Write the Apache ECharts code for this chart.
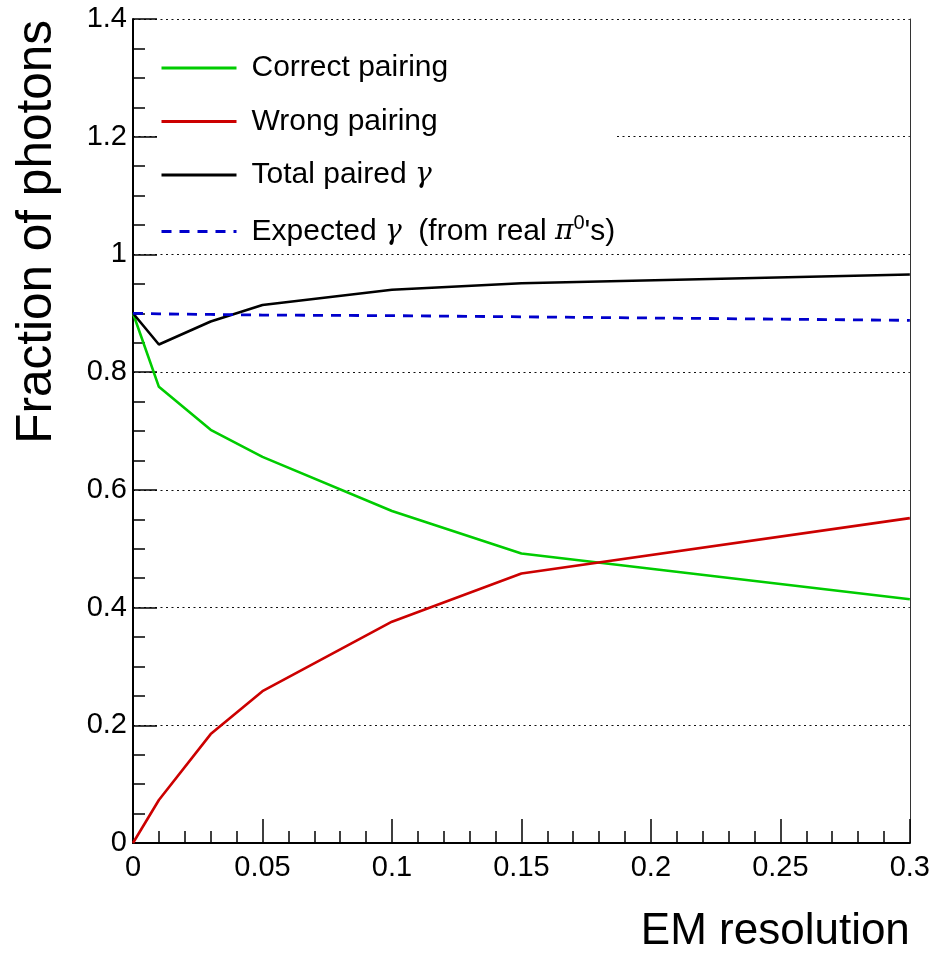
<!DOCTYPE html>
<html>
<head>
<meta charset="utf-8">
<script src="https://cdn.jsdelivr.net/npm/echarts@6/dist/echarts.min.js"></script>
<style>
html,body{margin:0;padding:0;background:#fff;}
#chart{width:933px;height:954px;}
</style>
</head>
<body>
<div id="chart"></div>
<script>
// ---- data ----
const emResolution   = [0, 0.01, 0.03, 0.05, 0.1, 0.15, 0.3];
const correctPairing = [0.900, 0.775, 0.702, 0.656, 0.564, 0.492, 0.414];
const wrongPairing   = [0.000, 0.073, 0.185, 0.258, 0.376, 0.458, 0.552];
const totalPaired    = [0.900, 0.847, 0.886, 0.914, 0.940, 0.951, 0.966];
const expectedGamma  = [0.900, 0.899, 0.898, 0.897, 0.896, 0.894, 0.888];
const seriesNames = ['Correct pairing', 'Wrong pairing', 'Total paired \u03b3', 'Expected \u03b3  (from real \u03c00\'s)'];
const xTickLabels = ['0', '0.05', '0.1', '0.15', '0.2', '0.25', '0.3'];
const yTickLabels = ['0', '0.2', '0.4', '0.6', '0.8', '1', '1.2', '1.4'];

const FONT = "'Liberation Sans', Arial, Helvetica, sans-serif";
const GREEK = "'DejaVu Serif', 'Liberation Serif', serif";
const pairs = ys => emResolution.map((x, i) => [x, ys[i]]);

const legendFormat = n => n
  .replace('\u03b3', '{g|\u03b3}')
  .replace('\u03c00', '{g|\u03c0}{sup|0}');

const chart = echarts.init(document.getElementById('chart'), null, {renderer: 'canvas'});
chart.setOption({
  animation: false,
  backgroundColor: '#fff',
  textStyle: {fontFamily: FONT, color: '#000'},
  grid: {left: 133, right: 19, top: 19, bottom: 109, containLabel: false},
  legend: {
    orient: 'vertical',
    left: 158, top: 22,
    padding: [31, 0, 7, 2],
    backgroundColor: '#fff',
    itemWidth: 75, itemHeight: 30, itemGap: 23.5,
    itemStyle: {opacity: 0},
    lineStyle: {width: 3},
    data: seriesNames,
    formatter: legendFormat,
    textStyle: {
      fontFamily: FONT, fontSize: 30, color: '#000', padding: [0, 0, 0, 10],
      rich: {
        g: {fontFamily: GREEK, fontStyle: 'italic', fontSize: 28, color: '#000'},
        sup: {fontFamily: FONT, fontSize: 20, color: '#000', padding: [0, 0, 16, 0]}
      }
    }
  },
  xAxis: {
    type: 'value', min: 0, max: 0.3, interval: 0.05,
    name: 'EM resolution', nameLocation: 'end', nameGap: 0,
    nameMoveOverlap: false,
    nameTextStyle: {fontFamily: FONT, fontSize: 44, color: '#000', align: 'right', verticalAlign: 'top', padding: [67, 0, 0, 0]},
    axisLine: {show: true, onZero: false, lineStyle: {color: '#000', width: 2}},
    axisTick: {show: true, inside: true, length: 24, lineStyle: {color: '#000', width: 1.5}},
    minorTick: {show: true, splitNumber: 5, length: 12, lineStyle: {color: '#000', width: 1.5}},
    axisLabel: {fontFamily: FONT, fontSize: 29, color: '#000', margin: 10, formatter: (v, i) => xTickLabels[i]},
    splitLine: {show: false}
  },
  yAxis: [{
    type: 'value', min: 0, max: 1.4, interval: 0.2,
    name: 'Fraction of photons', nameLocation: 'end', nameGap: -1, nameRotate: 90,
    nameMoveOverlap: false,
    nameTextStyle: {fontFamily: FONT, fontSize: 49.5, color: '#000', align: 'right', verticalAlign: 'bottom', padding: [0, 0, 71, 0]},
    axisLine: {show: true, onZero: false, lineStyle: {color: '#000', width: 2}},
    axisTick: {show: true, inside: true, length: 24, lineStyle: {color: '#000', width: 1.5}},
    minorTick: {show: true, splitNumber: 4, length: 12, lineStyle: {color: '#000', width: 1.5}},
    axisLabel: {fontFamily: FONT, fontSize: 29, color: '#000', margin: 6, formatter: (v, i) => yTickLabels[i]},
    splitLine: {show: true, lineStyle: {color: '#111', width: 1, type: [2, 3.5]}}
  }, {
    type: 'value', min: 0, max: 1.4, interval: 0.2, position: 'right',
    axisLine: {show: true, onZero: false, lineStyle: {color: '#333', width: 1}},
    axisTick: {show: false}, axisLabel: {show: false}, splitLine: {show: false}
  }],
  series: [
    {name: seriesNames[0], type: 'line', symbol: 'none', data: pairs(correctPairing),
     lineStyle: {color: '#00cc00', width: 2.6}, itemStyle: {color: '#00cc00'}},
    {name: seriesNames[1], type: 'line', symbol: 'none', data: pairs(wrongPairing),
     lineStyle: {color: '#cc0000', width: 2.6}, itemStyle: {color: '#cc0000'}},
    {name: seriesNames[2], type: 'line', symbol: 'none', data: pairs(totalPaired),
     lineStyle: {color: '#000000', width: 2.6}, itemStyle: {color: '#000000'}},
    {name: seriesNames[3], type: 'line', symbol: 'none', data: pairs(expectedGamma),
     lineStyle: {color: '#0000cc', width: 2.8, type: [10, 8]}, itemStyle: {color: '#0000cc'}}
  ]
});
</script>
</body>
</html>
